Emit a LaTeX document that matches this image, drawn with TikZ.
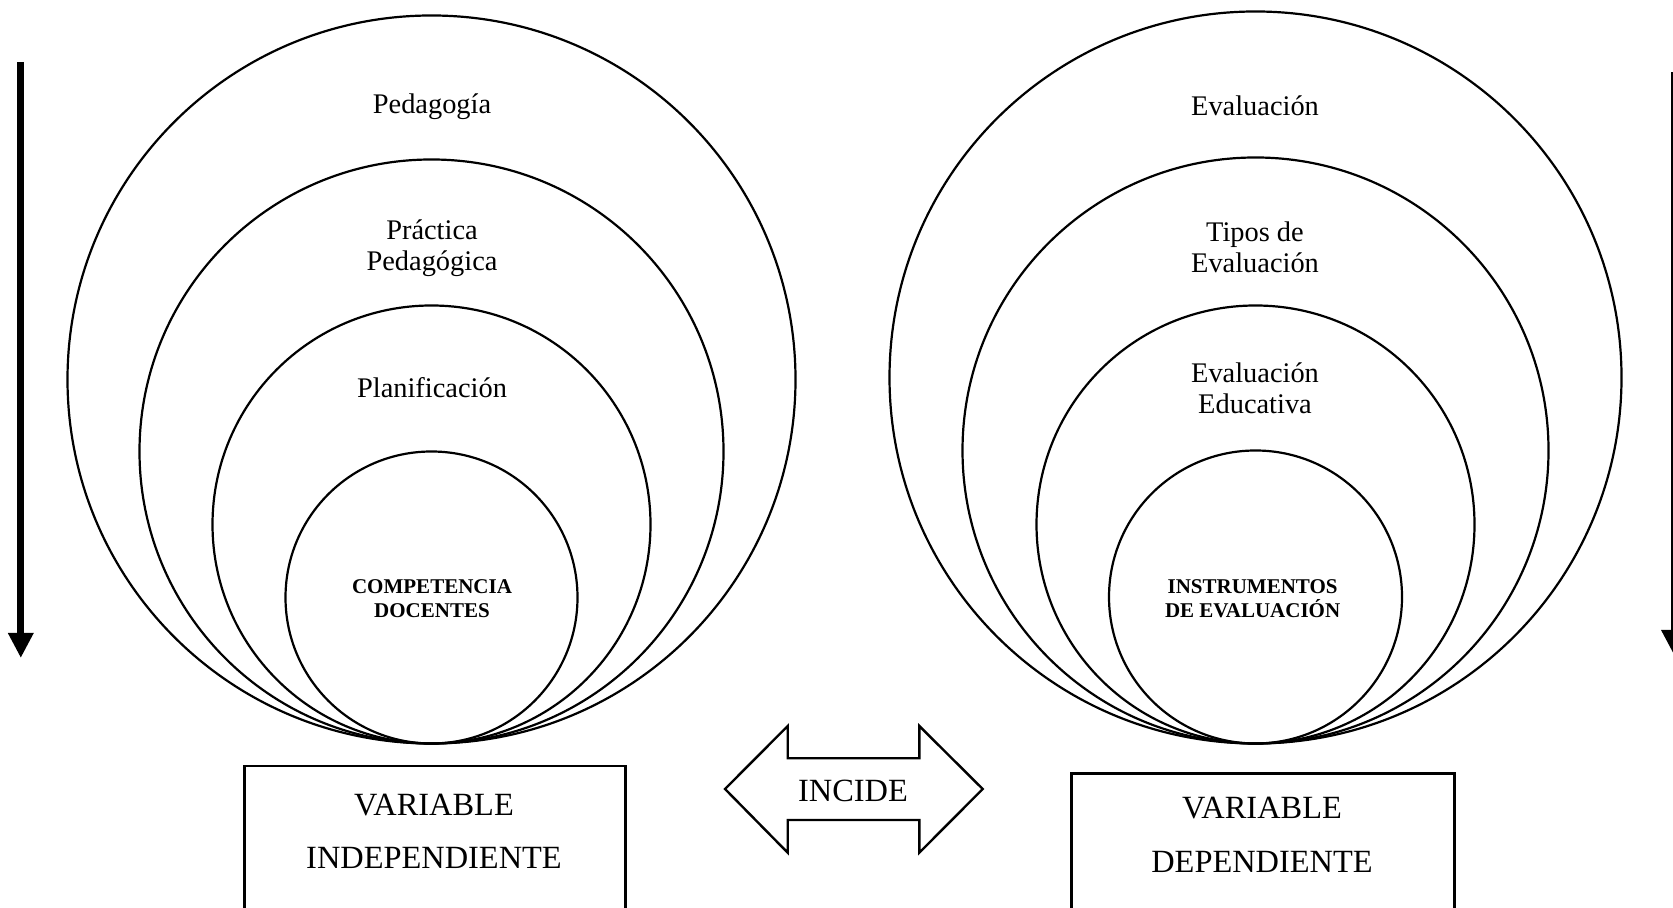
\documentclass[tikz,border=0pt]{standalone}
\usepackage{fontspec}
\setmainfont{Liberation Serif}
\usetikzlibrary{arrows.meta}

\tikzset{
  ring/.style={line width=1.1pt},
  lbl/.style={align=center, inner sep=0pt, font=\fontsize{14.2}{15.5}\selectfont},
  core/.style={align=center, inner sep=0pt, font=\fontsize{10.5}{11.7}\selectfont\bfseries},
  vartext/.style={align=center, inner sep=0pt, font=\fontsize{16.2}{26.7}\selectfont},
  bigarrow/.style={line width=3.5pt, -{Triangle[width=12pt,length=12.5pt]}}
}

\begin{document}
\begin{tikzpicture}[x=0.5pt,y=0.5pt]
\useasboundingbox (0,0) rectangle (1673,908);

% Circles
\foreach \r in {364,292,219,146}
  \draw[ring] (431.5,164.5+\r) circle[radius=\r];
\foreach \r in {366,293,219,146.5}
  \draw[ring] (1255.5,164.5+\r) circle[radius=\r];

% Labels
\node[lbl] (pedagogia) at (432,801.3) {Pedagogía};
\node[lbl] (practica) at (432,660) {Práctica\\Pedagógica};
\node[lbl] (planif) at (432,520.7) {Planificación};
\node[core] (compet) at (432,309.4) {COMPETENCIA\\DOCENTES};

\node[lbl] (evaluacion) at (1255,802.4) {Evaluación};
\node[lbl] (tipos) at (1255,660.5) {Tipos de\\Evaluación};
\node[lbl] (educativa) at (1255,520.2) {Evaluación\\Educativa};
\node[core] (instrum) at (1252.6,309.4) {INSTRUMENTOS\\DE EVALUACIÓN};

% Boxes
\draw[line width=1.2pt] (244.3,-20) rectangle (625.3,142);
\node[vartext] (indep) at (434,76.8) {VARIABLE\\INDEPENDIENTE};
\draw[line width=1.2pt] (1071.3,-20) rectangle (1454.3,134.4);
\node[vartext] (dep) at (1262,73.2) {VARIABLE\\DEPENDIENTE};

% Incide
\draw[line width=1.2pt, line join=miter] (725,119) -- (787.7,182) -- (787.7,149.7) -- (919.3,149.7)
  -- (919.3,182) -- (982.7,119) -- (919.3,55.3) -- (919.3,88) -- (787.7,88) -- (787.7,55.3) -- cycle;
\node[vartext] (incide) at (853,117) {INCIDE};

% Arrows
\coordinate (ltop) at (20.8,846);
\coordinate (lend) at (20.8,250);
\draw[bigarrow] (ltop) -- (lend);
\coordinate (rtop) at (1674,835.5);
\coordinate (rend) at (1674,253);
\draw[bigarrow] (rtop) -- (rend);

\end{tikzpicture}
\end{document}
